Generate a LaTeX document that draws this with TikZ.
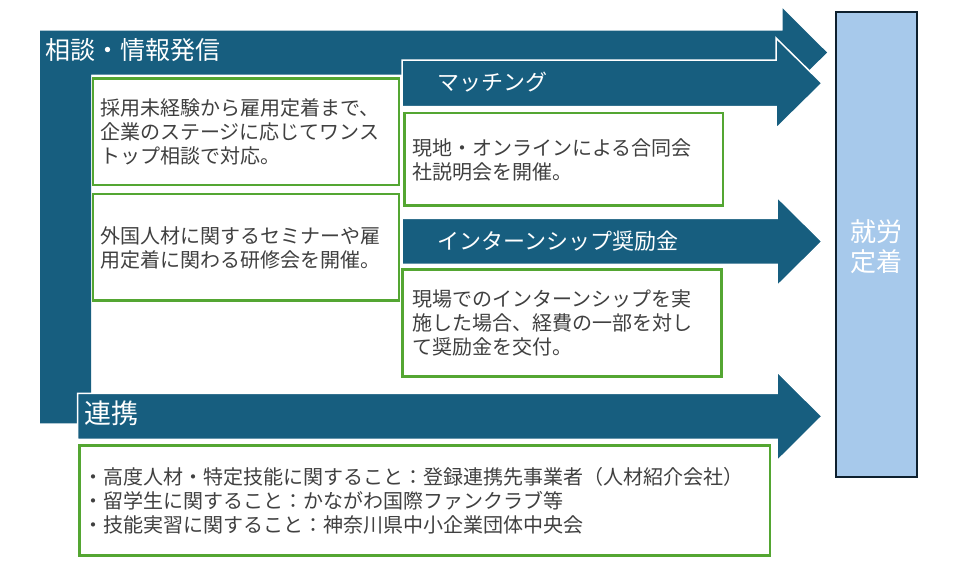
\documentclass[tikz,border=0pt]{standalone}
\usepackage{fontspec}
\setmainfont{Noto Sans CJK JP}
\definecolor{arrowblue}{RGB}{23,94,127}
\definecolor{boxgreen}{RGB}{84,166,50}
\definecolor{goalblue}{RGB}{167,201,235}
\definecolor{goalline}{RGB}{14,32,46}
\definecolor{bodytext}{RGB}{64,64,64}
\begin{document}
\begin{tikzpicture}[x=1pt,y=-1pt,
  arrowshape/.style={fill=arrowblue,draw=white,line width=1.5pt,line join=miter},
  greenbox/.style={draw=boxgreen,line width=2.5pt,fill=white},
  bodytxt/.style={anchor=west,inner sep=0pt,align=left,text=bodytext,font=\fontsize{20}{24}\selectfont},
  titletxt/.style={anchor=west,inner sep=0pt,text=white,font=\fontsize{25}{30}\selectfont},
  subtitletxt/.style={anchor=west,inner sep=0pt,text=white,font=\fontsize{22}{26}\selectfont},
  goaltxt/.style={inner sep=0pt,align=center,text=white,font=\fontsize{26}{30}\selectfont}
]
\useasboundingbox (0,0) rectangle (960,579);
% main L-shaped arrow
\path[fill=arrowblue] (40,30.7) -- (782.7,30.7) -- (782.7,8.3) -- (827,52.5) -- (782.7,96.7) -- (782.7,74.7) -- (91,74.7) -- (91,423.3) -- (40,423.3) -- cycle;
\node[titletxt] (tsoudan) at (45,50) {相談・情報発信};
% green boxes left
\draw[greenbox] (93,78.5) rectangle (398.8,184.8);
\node[bodytxt] (t1) at (100,131.5) {採用未経験から雇用定着まで、\\企業のステージに応じてワンス\\トップ相談で対応。};
\draw[greenbox] (93,194) rectangle (398.8,300.5);
\node[bodytxt] (t2) at (100,247.5) {外国人材に関するセミナーや雇\\用定着に関わる研修会を開催。};
% matching arrow
\path[arrowshape] (402,60) -- (776,60) -- (776,38) -- (822,83.3) -- (776,128.5) -- (776,106.5) -- (402,106.5) -- cycle;
\node[subtitletxt] (tmatch) at (437,82) {マッチング};
\draw[greenbox] (404.5,113) rectangle (722.8,205.5);
\node[bodytxt] (t3) at (412,159.5) {現地・オンラインによる合同会\\社説明会を開催。};
% internship arrow
\path[arrowshape] (402,218.3) -- (777,218.3) -- (777,197) -- (822,241.5) -- (777,286) -- (777,264.3) -- (402,264.3) -- cycle;
\node[subtitletxt] (tintern) at (437,241) {インターンシップ奨励金};
\draw[greenbox] (402.3,269.5) rectangle (721.5,376.5);
\node[bodytxt] (t4) at (412,323) {現場でのインターンシップを実\\施した場合、経費の一部を対し\\て奨励金を交付。};
% renkei arrow
\path[arrowshape] (77.7,393.3) -- (777,393.3) -- (777,371.7) -- (822,416.3) -- (777,461) -- (777,439.3) -- (77.7,439.3) -- cycle;
\node[titletxt,font=\fontsize{27}{30}\selectfont] (trenkei) at (84,413) {連携};
\draw[greenbox] (79.5,445.3) rectangle (769.8,555.5);
\node[bodytxt] (t5) at (83,501) {・高度人材・特定技能に関すること：登録連携先事業者（人材紹介会社）\\・留学生に関すること：かながわ国際ファンクラブ等\\・技能実習に関すること：神奈川県中小企業団体中央会};
% goal box
\draw[fill=goalblue,draw=goalline,line width=2pt] (836,12) rectangle (917.3,477);
\node[goaltxt] (goal) at (876.7,246.7) {就労\\定着};
\end{tikzpicture}
\end{document}
